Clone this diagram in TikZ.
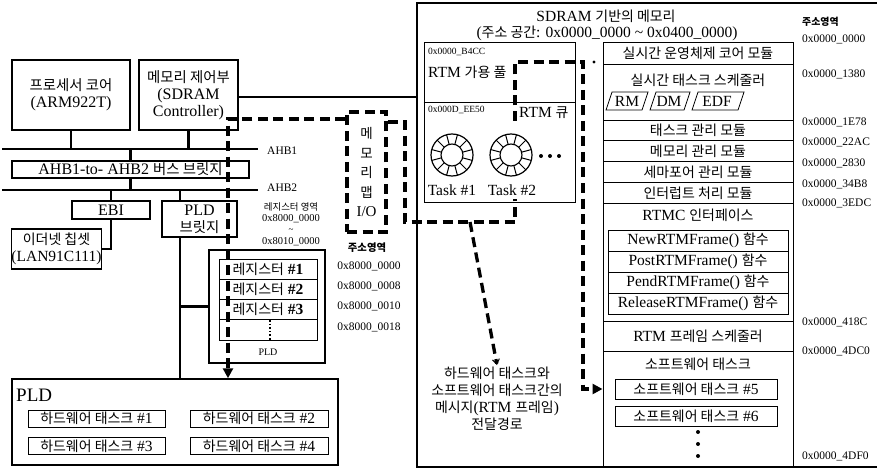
\documentclass[tikz,border=0pt]{standalone}
\usepackage{fontspec}
\setmainfont{Liberation Serif}
\newfontfamily\krfont{Noto Sans CJK KR}[Scale=0.9]
\usetikzlibrary{arrows.meta}
\newcommand{\kr}[1]{{\krfont #1}}
\newcommand{\fbig}{\fontsize{16}{17}\selectfont}
\newcommand{\fmid}{\fontsize{15.5}{17}\selectfont}
\newcommand{\fsm}{\fontsize{11.5}{13}\selectfont}
\newcommand{\ftiny}{\fontsize{9.5}{11}\selectfont}
\begin{document}
\begin{tikzpicture}[x=1pt,y=-1pt,
  box/.style={draw, line width=1.5pt, inner sep=0pt, align=center, font=\fbig},
  cell/.style={draw, line width=0.9pt, inner sep=0pt, align=center, font=\fmid},
  bus/.style={line width=2.6pt},
  dline/.style={line width=3.3pt, dash pattern=on 10pt off 5.5pt},
  lab/.style={inner sep=0pt, font=\fsm},
  addr/.style={inner sep=0pt, anchor=west, font=\fsm},
  sep/.style={line width=0.8pt},
  txt/.style={inner sep=0pt, font=\fmid}]
\useasboundingbox[fill=white] (0,0) rectangle (877,473);

% ---------- left part ----------
\node[box, minimum width=118pt, minimum height=70pt] (proc) at (71,95) {\kr{프로세서 코어}\\(ARM922T)};
\node[box, minimum width=99pt, minimum height=70pt] (memc) at (188.5,95) {\kr{메모리 제어부}\\(SDRAM\\Controller)};

\coordinate (a1l) at (2,149);  \coordinate (a1r) at (258,149);
\coordinate (a2l) at (2,190);  \coordinate (a2r) at (258,190);
\draw[bus] (a1l) -- (a1r);
\draw[bus] (a2l) -- (a2r);
\node[lab, anchor=west] (ahb1) at (267,151) {AHB1};
\node[lab, anchor=west] (ahb2) at (267,188) {AHB2};

\node[box, minimum width=237pt, minimum height=17pt] (brg) at (130.5,169.5) {AHB1-to- AHB2 \kr{버스 브릿지}};

\draw[bus] (proc.south) -- (proc.south |- a1l);
\draw[bus] (memc.south) -- (memc.south |- a1l);
\draw[bus] (brg.north |- a1l) -- (brg.north);
\draw[bus] (brg.south) -- (brg.south |- a2l);

\node[box, minimum width=78pt, minimum height=18pt] (ebi) at (111,210) {EBI};
\node[box, minimum width=89pt, minimum height=40pt, font=\fmid] (eth) at (56.5,249) {\kr{이더넷 칩셋}\\(LAN91C111)};
\draw[bus] (ebi.north |- a2l) -- (ebi.north);
\draw[bus] (ebi.south) |- (eth.east);

\node[box, minimum width=75pt, minimum height=36pt] (pldbr) at (199.5,219) {PLD\\\kr{브릿지}};

\node[box, minimum width=116pt, minimum height=113pt] (regout) at (267,306.5) {};
\node[cell, minimum width=98pt, minimum height=20pt] (r1) at (268,269) {\kr{레지스터} \textbf{\#1}};
\node[cell, minimum width=98pt, minimum height=20pt] (r2) at (268,289) {\kr{레지스터} \textbf{\#2}};
\node[cell, minimum width=98pt, minimum height=20pt] (r3) at (268,309) {\kr{레지스터} \textbf{\#3}};
\node[cell, minimum width=98pt, minimum height=21pt] (r4) at (268,329.5) {};
\draw[dotted, line width=1.6pt] (270,320) -- (270,340);
\node[lab, font=\fontsize{10}{11}\selectfont] (regpld) at (268,352) {PLD};

\node[box, minimum width=326pt, minimum height=86pt] (pld) at (175,422) {};
\node[inner sep=0pt, anchor=west, font=\fontsize{19}{20}\selectfont] (pldt) at (16,395) {PLD};
\node[cell, minimum width=137pt, minimum height=17pt] (hw1) at (96.5,418.5) {\kr{하드웨어 태스크} \#1};
\node[cell, minimum width=138pt, minimum height=17pt] (hw2) at (259,418.5) {\kr{하드웨어 태스크} \#2};
\node[cell, minimum width=137pt, minimum height=17pt] (hw3) at (96.5,446) {\kr{하드웨어 태스크} \#3};
\node[cell, minimum width=138pt, minimum height=17pt] (hw4) at (259,446) {\kr{하드웨어 태스크} \#4};

\coordinate (px) at (180,0);
\draw[bus] (px |- a2l) -- (px |- pldbr.north);
\draw[bus] (px |- pldbr.south) -- (px |- pld.north);
\draw[bus] (px |- regout.west) -- (regout.west);

\node[lab, font=\fontsize{10.5}{12}\selectfont] (regarea) at (291,207) {\kr{레지스터 영역}};
\node[lab, font=\fontsize{10.5}{12}\selectfont] (rega) at (291,219) {0x8000\_0000};
\node[lab, font=\fontsize{9}{10}\selectfont] (regt) at (291,231) {\textasciitilde};
\node[lab, font=\fontsize{10.5}{12}\selectfont] (regb) at (291,242) {0x8010\_0000};

\node[lab, font=\fontsize{11.5}{13}\selectfont\bfseries] (addrh1) at (367,248) {\kr{주소영역}};
\node[lab] (ad1) at (369,266) {0x8000\_0000};
\node[lab] (ad2) at (369,286) {0x8000\_0008};
\node[lab] (ad3) at (369,306) {0x8000\_0010};
\node[lab] (ad4) at (369,327) {0x8000\_0018};

% memory-mapped I/O
\node[draw, dline, minimum width=39pt, minimum height=120pt, inner sep=0pt, align=center, font=\fontsize{15}{19.5}\selectfont] (io) at (366.5,172) {\kr{메}\\\kr{모}\\\kr{리}\\\kr{맵}\\I/O};

% ---------- SDRAM memory ----------
\node[draw, line width=1.5pt, minimum width=463pt, minimum height=464pt] (sdram) at (648.5,235) {};
\coordinate (mline) at (0,97);
\draw[bus] (memc.east |- mline) -- (sdram.west |- mline);
\node[txt] (t1) at (606,16) {SDRAM \kr{기반의 메모리}};
\node[txt] (t2) at (607,33) {(\kr{주소 공간}: 0x0000\_0000 \textasciitilde{} 0x0400\_0000)};

\node[draw, line width=1pt, minimum width=151pt, minimum height=159pt] (rtm) at (499.5,122.5) {};
\coordinate (rdiv) at (0,102);
\draw[sep] (rtm.west |- rdiv) -- (rtm.east |- rdiv);
\node[inner sep=0pt, anchor=west, font=\ftiny] (b4cc) at (428,52) {0x0000\_B4CC};
\node[txt, anchor=west] (pool) at (428,72) {RTM \kr{가용 풀}};
\node[inner sep=0pt, anchor=west, font=\ftiny] (ee50) at (428,110) {0x000D\_EE50};
\node[txt, anchor=west] (que) at (519,113) {RTM \kr{큐}};

\foreach \cx/\nm in {452/ring1, 511/ring2}{
  \node[draw, circle, line width=1.2pt, minimum size=42pt, inner sep=0pt] (\nm) at (\cx,155) {};
  \begin{scope}[shift={(\cx,155)}]
    \draw[line width=1.1pt] (0,0) circle[radius=11pt];
    \foreach \a in {15,45,...,345} \draw[line width=1pt] (\a:11) -- (\a:21);
  \end{scope}
}
\node[txt] (task1) at (452,190) {Task \#1};
\node[txt] (task2) at (512,190) {Task \#2};
\foreach \dx in {541,550,559} \fill (\dx,156) circle[radius=2pt];

% right column
\node[draw, line width=1pt, minimum width=190pt, minimum height=424pt] (col) at (698,255) {};
\foreach \yy in {64,120,140,161,182,203,321,351} \draw[sep] (603,\yy) -- (793,\yy);
\node[txt] (core) at (698,53) {\kr{실시간 운영체제 코어 모듈}};
\node[txt] (sched) at (698,80) {\kr{실시간 태스크 스케줄러}};
\node[txt] (rm) at (627,101) {RM};
\node[txt] (dm) at (669,101) {DM};
\node[txt] (edf) at (717,101) {EDF};
\draw[sep] (606,110) -- (612,92) -- (648,92) -- (642,110) -- cycle;
\draw[sep] (650,110) -- (656,92) -- (690,92) -- (684,110) -- cycle;
\draw[sep] (692,110) -- (698,92) -- (744,92) -- (738,110) -- cycle;
\node[txt] (tm) at (698,130) {\kr{태스크 관리 모듈}};
\node[txt] (mm) at (698,151) {\kr{메모리 관리 모듈}};
\node[txt] (sm) at (698,172) {\kr{세마포어 관리 모듈}};
\node[txt] (im) at (698,193) {\kr{인터럽트 처리 모듈}};
\node[txt] (rtmc) at (698,215) {RTMC \kr{인터페이스}};
\node[cell, minimum width=180pt, minimum height=21pt] (fn1) at (698,240.5) {NewRTMFrame() \kr{함수}};
\node[cell, minimum width=180pt, minimum height=21pt] (fn2) at (698,261.5) {PostRTMFrame() \kr{함수}};
\node[cell, minimum width=180pt, minimum height=21pt] (fn3) at (698,282.5) {PendRTMFrame() \kr{함수}};
\node[cell, minimum width=180pt, minimum height=21pt] (fn4) at (698,303.5) {ReleaseRTMFrame() \kr{함수}};
\node[txt] (fsched) at (698,336) {RTM \kr{프레임 스케줄러}};
\node[txt] (swt) at (698,364) {\kr{소프트웨어 태스크}};
\node[cell, minimum width=162pt, minimum height=20pt] (sw5) at (696,389) {\kr{소프트웨어 태스크} \#5};
\node[cell, minimum width=162pt, minimum height=20pt] (sw6) at (696,416) {\kr{소프트웨어 태스크} \#6};
\foreach \dy in {432,444,456} \fill (698,\dy) circle[radius=2pt];

% right addresses
\node[addr, font=\fontsize{11}{12}\selectfont\bfseries] (addrh2) at (802,22) {\kr{주소영역}};
\node[addr] (m0) at (802,39) {0x0000\_0000};
\node[addr] (m1) at (802,74) {0x0000\_1380};
\node[addr] (m2) at (802,122) {0x0000\_1E78};
\node[addr] (m3) at (802,142) {0x0000\_22AC};
\node[addr] (m4) at (802,163) {0x0000\_2830};
\node[addr] (m5) at (802,184) {0x0000\_34B8};
\node[addr] (m6) at (802,203) {0x0000\_3EDC};
\node[addr] (m7) at (802,322) {0x0000\_418C};
\node[addr] (m8) at (802,351) {0x0000\_4DC0};
\node[addr] (m9) at (802,456) {0x0000\_4DF0};

% message label
\node[inner sep=2pt, align=center, font=\fontsize{15.5}{17}\selectfont] (msg) at (497,399) {\kr{하드웨어 태스크와}\\\kr{소프트웨어 태스크간의}\\\kr{메시지}(RTM \kr{프레임})\\\kr{전달경로}};

% ---------- dashed message paths ----------
\coordinate (dc) at (228,119);
\draw[dline, -{Triangle[length=10pt,width=10pt]}] (io.west |- dc) -- (dc) -- (dc |- pld.north);
\coordinate (q1) at (405,122);
\coordinate (q2) at (405,222);
\coordinate (ds) at (470,222);
\coordinate (q3) at (515,222);
\coordinate (q4) at (515,199);
\coordinate (q5) at (515,121);
\coordinate (q6) at (515,62);
\coordinate (q7) at (583,62);
\draw[dline] (io.east |- q1) -- (q1) -- (q2) -- (q3) -- (q4);
\draw[dline, -{Triangle[length=10pt,width=10pt]}] (q5) -- (q6) -- (q7) -- (q7 |- sw5) -- (col.west |- sw5);
\fill (594,62) circle[radius=1.6pt];
\draw[dline, -{Straight Barb[line width=1pt,length=5pt,width=7pt]}] (ds) -- (msg.north);
\end{tikzpicture}
\end{document}
